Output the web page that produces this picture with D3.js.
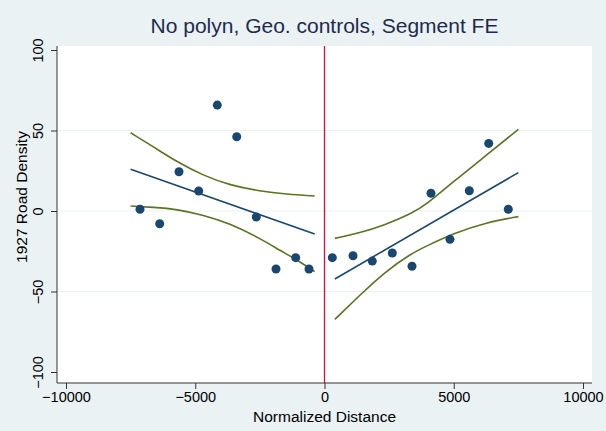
<!DOCTYPE html>
<html>
<head>
<meta charset="utf-8">
<script src="https://cdn.jsdelivr.net/npm/d3@7"></script>
<style>
  body { margin: 0; background: #eaf2f3; }
  svg { display: block; }
</style>
</head>
<body>
<div id="chart"></div>
<script>
// binned scatter
const leftX = [-7137, -6375, -5629, -4867, -4147, -3396, -2638, -1876, -1114, -600];
const leftY = [1.1, -7.9, 24.4, 12.4, 65.8, 46.1, -3.7, -36.0, -29.0, -36.0];
const rightX = [302, 1103, 1849, 2623, 3385, 4120, 4855, 5602, 6352, 7110];
const rightY = [-29.0, -27.8, -31.1, -26.1, -34.3, 11.0, -17.6, 12.6, 42.0, 1.1];

// linear fits
const leftFitX = [-7500, -380];
const leftFitY = [25.9, -14.3];
const rightFitX = [400, 7500];
const rightFitY = [-42.2, 23.8];

// confidence bands
const leftUpX = [-7500, -6623, -5718, -4689, -3656, -2495, -1462, -380];
const leftUpY = [48.6, 39.9, 30.6, 22.0, 16.0, 12.3, 10.5, 9.3];
const leftLoX = [-7500, -6623, -5718, -4689, -3656, -2495, -1721, -948, -380];
const leftLoY = [3.1, 2.3, 1.1, -2.5, -7.8, -17.0, -24.5, -31.5, -37.7];
const rightCiX = [400, 1308, 2340, 3373, 3888, 4983, 6275, 7500];
const rightUpY = [-17.0, -13.9, -8.7, -1.4, 3.3, 18.2, 34.8, 50.7];
const rightLoY = [-67.3, -53.2, -37.7, -26.3, -22.2, -13.9, -7.0, -3.5];

const xTicks = [-10000, -5000, 0, 5000, 10000];
const yTicks = [-100, -50, 0, 50, 100];
const yGrid = [-50, 0, 50];

const width = 606, height = 431;
const margin = {top: 46, right: 14, bottom: 48, left: 57};
const font = "'Liberation Sans', Arial, Helvetica, sans-serif";

const x = d3.scaleLinear().domain([-10000, 10000]).range([66, 583]);
const y = d3.scaleLinear().domain([-100, 100]).range([372, 50]);

const svg = d3.select("#chart").append("svg")
    .attr("width", width)
    .attr("height", height)
    .attr("font-family", font);

svg.append("rect")
    .attr("width", width).attr("height", height)
    .attr("fill", "#eaf2f3");

svg.append("rect")
    .attr("x", margin.left).attr("y", margin.top)
    .attr("width", width - margin.left - margin.right)
    .attr("height", height - margin.top - margin.bottom)
    .attr("fill", "white");

const plotBottom = height - margin.bottom;

svg.append("g").selectAll("line")
    .data(yGrid)
    .join("line")
        .attr("x1", margin.left).attr("x2", width - margin.right)
        .attr("y1", d => y(d)).attr("y2", d => y(d))
        .attr("stroke", "#eaf2f3")
        .attr("stroke-width", 1.2);

// axes
const xAxis = svg.append("g")
    .attr("transform", `translate(0,${plotBottom})`)
    .call(d3.axisBottom(x).tickValues(xTicks).tickSize(6).tickPadding(3)
        .tickFormat(d => d3.format("d")(d).replace("-", "\u2212")));
xAxis.select(".domain").attr("d", `M${margin.left},0H${width - margin.right}`);
xAxis.selectAll("text").attr("font-size", 14.5).attr("fill", "#000");
xAxis.selectAll("line, path").attr("stroke", "#333");

const yAxis = svg.append("g")
    .attr("transform", `translate(${margin.left},0)`)
    .call(d3.axisLeft(y).tickValues(yTicks).tickSize(6).tickPadding(3)
        .tickFormat(d => d3.format("d")(d).replace("-", "\u2212")));
yAxis.select(".domain").attr("d", `M0,${margin.top}V${plotBottom}`);
yAxis.selectAll("line, path").attr("stroke", "#333");
yAxis.selectAll("text")
    .attr("font-size", 14.5).attr("fill", "#000")
    .attr("text-anchor", "middle")
    .attr("x", null).attr("dy", null)
    .attr("transform", "translate(-14,0) rotate(-90)")
    .attr("y", 0);

// cutoff line
svg.append("line")
    .attr("x1", x(0)).attr("x2", x(0))
    .attr("y1", margin.top).attr("y2", plotBottom)
    .attr("stroke", "#d0103a").attr("stroke-width", 1.3);

const line = d3.line().x(d => x(d[0])).y(d => y(d[1]));
const curve = d3.line().x(d => x(d[0])).y(d => y(d[1])).curve(d3.curveBasis);

const bands = [
    [leftUpX, leftUpY], [leftLoX, leftLoY],
    [rightCiX, rightUpY], [rightCiX, rightLoY]
];
svg.append("g").selectAll("path")
    .data(bands)
    .join("path")
        .attr("d", d => curve(d3.zip(d[0], d[1])))
        .attr("fill", "none")
        .attr("stroke", "#5a7324")
        .attr("stroke-width", 1.6);

svg.append("g").selectAll("path")
    .data([[leftFitX, leftFitY], [rightFitX, rightFitY]])
    .join("path")
        .attr("d", d => line(d3.zip(d[0], d[1])))
        .attr("fill", "none")
        .attr("stroke", "#1a476f")
        .attr("stroke-width", 1.6);

const pts = d3.zip(leftX.concat(rightX), leftY.concat(rightY));
svg.append("g").selectAll("circle")
    .data(pts)
    .join("circle")
        .attr("cx", d => x(d[0]))
        .attr("cy", d => y(d[1]))
        .attr("r", 4.5)
        .attr("fill", "#1a476f");

// titles
svg.append("text")
    .attr("x", (margin.left + width - margin.right) / 2)
    .attr("y", 33)
    .attr("text-anchor", "middle")
    .attr("font-size", 21)
    .attr("fill", "#1e2b4f")
    .text("No polyn, Geo. controls, Segment FE");

svg.append("text")
    .attr("x", x(0))
    .attr("y", 422)
    .attr("text-anchor", "middle")
    .attr("font-size", 15.5)
    .attr("fill", "#000")
    .text("Normalized Distance");

svg.append("text")
    .attr("transform", `translate(27,197) rotate(-90)`)
    .attr("text-anchor", "middle")
    .attr("font-size", 15.5)
    .attr("fill", "#000")
    .text("1927 Road Density");
</script>
</body>
</html>
